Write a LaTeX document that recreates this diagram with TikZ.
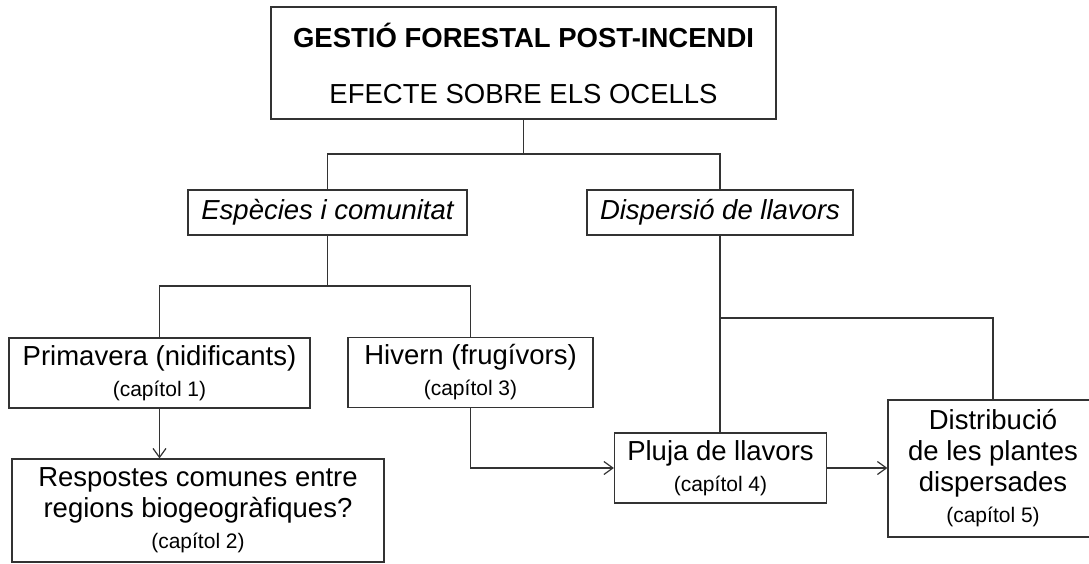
\documentclass[tikz,border=0pt]{standalone}
\usepackage{fontspec}
\setmainfont{Liberation Sans}
\usetikzlibrary{arrows.meta}

\newcommand{\mainsize}{\fontsize{27.5pt}{31pt}\selectfont}
\newcommand{\chapsize}{\fontsize{21pt}{31pt}\selectfont}

\tikzset{
    box/.style={draw=black!80, line width=1.2pt, inner sep=0pt, align=center,
        font=\mainsize},
    link/.style={draw=black!80, line width=1.2pt},
    linkarrow/.style={link, -{Straight Barb[length=9pt, width=13pt]}},
}

\begin{document}
\begin{tikzpicture}[x=1pt, y=-1pt]
    \clip (0, 0) rectangle (1089, 563);
    \node[box, minimum width=505pt, minimum height=112pt] (top) at (523.5, 63)
        {\textbf{GESTIÓ FORESTAL POST-INCENDI}\\[25pt]EFECTE SOBRE ELS OCELLS};
    \node[box, minimum width=279pt, minimum height=45pt] (esp) at (327.5, 212.5)
        {\itshape Espècies i comunitat};
    \node[box, minimum width=266pt, minimum height=45pt] (disp) at (720, 212.5)
        {\itshape Dispersió de llavors};
    \node[box, minimum width=301pt, minimum height=70pt] (prim) at (159.5, 373)
        {Primavera (nidificants)\\{\chapsize (capítol 1)}};
    \node[box, minimum width=245pt, minimum height=70pt] (hiv) at (470.5, 372.5)
        {Hivern (frugívors)\\{\chapsize (capítol 3)}};
    \node[box, minimum width=372pt, minimum height=103pt] (resp) at (198, 510.5)
        {Respostes comunes entre\\regions biogeogràfiques?\\{\chapsize (capítol 2)}};
    \node[box, minimum width=212pt, minimum height=70pt] (pluja) at (720.5, 468)
        {Pluja de llavors\\{\chapsize (capítol 4)}};
    \node[box, minimum width=210pt, minimum height=137pt] (dist) at (993, 468.5)
        {Distribució\\de les plantes\\dispersades\\{\chapsize (capítol 5)}};

    % branching points
    \coordinate (split1) at (523.5, 154);
    \coordinate (split2) at (327.5, 286);
    \coordinate (split3) at (720, 318);

    \draw[link] (top) -- (split1);
    \draw[link] (esp.north) |- (split1) -| (disp.north);
    \draw[link] (esp) -- (split2);
    \draw[link] (prim.north) |- (split2) -| (hiv.north);
    \draw[link] (disp.south) -- (disp.south |- pluja.north);
    \draw[link] (split3) -| (dist.north);
    \draw[linkarrow] (prim.south) -- (prim.south |- resp.north);
    \draw[linkarrow] (hiv) |- (pluja);
    \draw[linkarrow] (pluja.east) -- (pluja.east -| dist.west);
\end{tikzpicture}
\end{document}
